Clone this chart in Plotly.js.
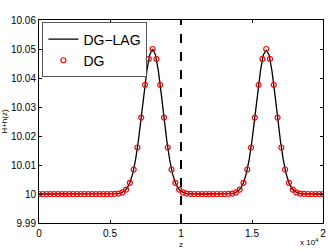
<!DOCTYPE html>
<html><head><meta charset="utf-8">
<script src="https://cdn.plot.ly/plotly-3.0.1.min.js"></script>
<style>html,body{margin:0;padding:0;background:#fff}#plot{width:328px;height:249px}</style>
</head><body><div id="plot"></div>
<script>
// DG nodes (z) and values H+h(z)
const dgZ = [0,266.7,533.3,800,1066.7,1333.3,1600,1866.7,2133.3,2400,2666.7,2933.3,3200,3466.7,3733.3,4000,4266.7,4533.3,4800,5066.7,5333.3,5600,5866.7,6133.3,6400,6666.7,6933.3,7200,7466.7,7733.3,8000,8266.7,8533.3,8800,9066.7,9333.3,9600,9866.7,10133.3,10400,10666.7,10933.3,11200,11466.7,11733.3,12000,12266.7,12533.3,12800,13066.7,13333.3,13600,13866.7,14133.3,14400,14666.7,14933.3,15200,15466.7,15733.3,16000,16266.7,16533.3,16800,17066.7,17333.3,17600,17866.7,18133.3,18400,18666.7,18933.3,19200,19466.7,19733.3,20000];
const dgH = [10,10,10,10,10,10,10,10,10,10,10,10,10,10,10,10,10,10,10,10,10.00004,10.00016,10.00053,10.00153,10.00387,10.00845,10.01603,10.02636,10.03763,10.04657,10.05,10.04657,10.03763,10.02636,10.01603,10.00845,10.00387,10.00153,10.00053,10.00016,10.00004,10,10,10,10,10,10,10,10,10,10.00004,10.00016,10.00053,10.00153,10.00387,10.00845,10.01603,10.02636,10.03763,10.04657,10.05,10.04657,10.03763,10.02636,10.01603,10.00845,10.00387,10.00153,10.00053,10.00016,10.00004,10,10,10,10,10];
// DG-LAG curve
const lagZ = [0,200,400,600,800,1000,1200,1400,1600,1800,2000,2200,2400,2600,2800,3000,3200,3400,3600,3800,4000,4200,4400,4600,4800,5000,5200,5400,5600,5800,6000,6200,6400,6600,6800,7000,7200,7400,7600,7800,8000,8200,8400,8600,8800,9000,9200,9400,9600,9800,10000,10200,10400,10600,10800,11000,11200,11400,11600,11800,12000,12200,12400,12600,12800,13000,13200,13400,13600,13800,14000,14200,14400,14600,14800,15000,15200,15400,15600,15800,16000,16200,16400,16600,16800,17000,17200,17400,17600,17800,18000,18200,18400,18600,18800,19000,19200,19400,19600,19800,20000];
const lagH = [10,10,10,10,10,10,10,10,10,10,10,10,10,10,10,10,10,10,10,10,10,10,10,10,10,10,10,10.00006,10.00016,10.0004,10.00092,10.00196,10.00387,10.00704,10.01185,10.01839,10.02636,10.03488,10.04261,10.04804,10.05,10.04804,10.04261,10.03488,10.02636,10.01839,10.01185,10.00704,10.00387,10.00196,10.00092,10.0004,10.00016,10.00006,10,10,10,10,10,10,10,10,10,10,10,10,10,10.00006,10.00016,10.0004,10.00092,10.00196,10.00387,10.00704,10.01185,10.01839,10.02636,10.03488,10.04261,10.04804,10.0495,10.04804,10.04261,10.03488,10.02636,10.01839,10.01185,10.00704,10.00387,10.00196,10.00092,10.0004,10.00016,10.00006,10,10,10,10,10,10,10];
const dividerZ = [10000, 10000];
const dividerH = [9.99, 10.06];
const xTickVals = [0,5000,10000,15000,20000];
const xTickText = ['0','0.5','1','1.5','2'];
const yTickVals = [9.99,10,10.01,10.02,10.03,10.04,10.05,10.06];
const yTickText = ['9.99','10','10.01','10.02','10.03','10.04','10.05','10.06'];

const traces = [
  {x: dividerZ, y: dividerH, mode:'lines', line:{color:'#000', width:2, dash:'dash'}, showlegend:false, hoverinfo:'skip'},
  {x: lagZ, y: lagH, mode:'lines', name:'DG\u2212LAG', line:{color:'#000', width:1.3}},
  {x: dgZ, y: dgH, mode:'markers', name:'DG', marker:{symbol:'circle-open', size:5, color:'#ff0000', line:{width:1.2, color:'#ff0000'}}}
];
const axBase = {showline:true, linecolor:'#000', linewidth:1, mirror:'ticks', ticks:'inside', ticklen:3, tickcolor:'#000', showgrid:false, zeroline:false, tickfont:{family:'Liberation Sans, Arial, sans-serif', size:10, color:'#000'}};
const layout = {
  width:328, height:249,
  margin:{l:39, r:5, t:20, b:26},
  paper_bgcolor:'#fff', plot_bgcolor:'#fff',
  font:{family:'Liberation Sans, Arial, sans-serif', color:'#000'},
  xaxis: Object.assign({}, axBase, {range:[0,20000], tickmode:'array', tickvals:xTickVals, ticktext:xTickText, ticklabelstandoff:1,
    title:{text:'z', font:{size:8}, standoff:4}}),
  yaxis: Object.assign({}, axBase, {range:[9.99,10.06], tickmode:'array', tickvals:yTickVals, ticktext:yTickText,
    title:{text:'H+h(z)', font:{size:8}, standoff:4}}),
  showlegend:true,
  legend:{x:0.012, y:0.988, xanchor:'left', yanchor:'top', bgcolor:'#fff', bordercolor:'#555', borderwidth:1,
    font:{size:14, family:'Liberation Sans, Arial, sans-serif', color:'#000'}, tracegroupgap:0, itemwidth:30},
  annotations:[{xref:'paper', yref:'paper', x:0.988, y:-0.128, xanchor:'right', yanchor:'bottom', showarrow:false,
    text:'x 10<sup>4</sup>', font:{size:8, color:'#000'}}]
};
Plotly.newPlot('plot', traces, layout, {displayModeBar:false, staticPlot:true});
</script></body></html>
